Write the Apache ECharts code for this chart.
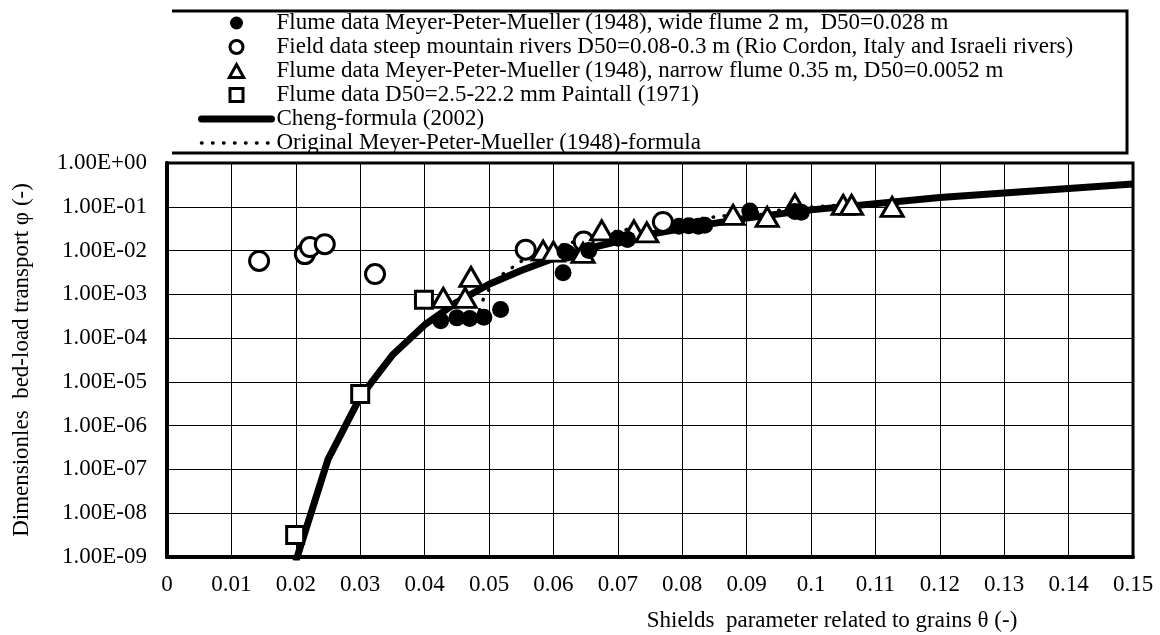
<!DOCTYPE html>
<html><head><meta charset="utf-8">
<script src="https://cdn.jsdelivr.net/npm/echarts@6/dist/echarts.min.js"></script>
<style>html,body{margin:0;padding:0;background:#fff}#c{width:1160px;height:635px}</style>
</head><body><div id="c"></div><script>
// ---- data ----
const seriesNames = [
  'Flume data Meyer-Peter-Mueller (1948), wide flume 2 m,  D50=0.028 m',
  'Field data steep mountain rivers D50=0.08-0.3 m (Rio Cordon, Italy and Israeli rivers)',
  'Flume data Meyer-Peter-Mueller (1948), narrow flume 0.35 m, D50=0.0052 m',
  'Flume data D50=2.5-22.2 mm Paintall (1971)',
  'Cheng-formula (2002)',
  'Original Meyer-Peter-Mueller (1948)-formula'
];
const wideTheta = [0.0425, 0.0450, 0.0470, 0.0492, 0.0518, 0.0615, 0.0618, 0.0622, 0.0655, 0.0700, 0.0715, 0.0795, 0.0810, 0.0825, 0.0835, 0.0905, 0.0975, 0.0985];
const widePhi   = [2.5e-4, 2.9e-4, 2.8e-4, 3.0e-4, 4.5e-4, 3.1e-3, 9.5e-3, 8.8e-3, 1.0e-2, 1.9e-2, 1.8e-2, 3.6e-2, 3.7e-2, 3.6e-2, 3.8e-2, 8.0e-2, 7.8e-2, 7.5e-2];
const fieldTheta = [0.0143, 0.0214, 0.0222, 0.0245, 0.0323, 0.0557, 0.0647, 0.0770];
const fieldPhi   = [5.8e-3, 8.3e-3, 1.2e-2, 1.4e-2, 2.9e-3, 1.05e-2, 1.6e-2, 4.5e-2];
const narrowTheta = [0.0429, 0.0463, 0.0472, 0.0584, 0.0600, 0.0646, 0.0675, 0.0725, 0.0745, 0.0879, 0.0932, 0.0975, 0.1050, 0.1063, 0.1126];
const narrowPhi   = [8.3e-4, 8.3e-4, 2.5e-3, 1.0e-2, 9.5e-3, 8.9e-3, 2.9e-2, 2.9e-2, 2.6e-2, 6.5e-2, 5.9e-2, 1.15e-1, 1.1e-1, 1.1e-1, 1.0e-1];
const paintallTheta = [0.0199, 0.0300, 0.0399];
const paintallPhi   = [3.2e-9, 5.3e-6, 7.5e-4];
const chengTheta = [0.020, 0.025, 0.030, 0.035, 0.040, 0.045, 0.050, 0.055, 0.060, 0.065, 0.070, 0.075, 0.080, 0.090, 0.100, 0.120, 0.150];
const chengPhi   = [8e-10, 1.7e-7, 4.5e-6, 4.1e-5, 2.0e-4, 6.6e-4, 1.7e-3, 3.5e-3, 6.6e-3, 1.07e-2, 1.63e-2, 2.35e-2, 3.2e-2, 5.5e-2, 8.5e-2, 1.62e-1, 3.3e-1];
const mpmTheta = [0.048, 0.049, 0.050, 0.052, 0.055, 0.060, 0.070, 0.080, 0.090, 0.100, 0.110];
const mpmPhi   = [2.5e-4, 7.2e-4, 1.3e-3, 2.8e-3, 5.7e-3, 1.2e-2, 2.8e-2, 4.8e-2, 7.1e-2, 9.8e-2, 1.26e-1];
const xMin = 0, xMax = 0.15, xStep = 0.01;
const yMin = 1e-9, yMax = 1;
const xTitle = 'Shields  parameter related to grains θ (-)';
const yTitle = 'Dimensionles  bed-load transport φ (-)';

const pairs = (xs, ys) => xs.map((x, i) => [x, ys[i]]);
const FONT = "'Liberation Serif','Times New Roman',serif";
const fmtY = v => {
  const e = Math.round(Math.log10(v));
  const m = v / Math.pow(10, e);
  return m.toFixed(2) + 'E' + (e < 0 ? '-' : '+') + String(Math.abs(e)).padStart(2, '0');
};
const fmtX = v => String(Math.round(v * 100) / 100);
const openStyle = {color: '#fff', borderColor: '#000', borderWidth: 3, opacity: 1};
const legendOpen = {color: '#fff', borderColor: '#000', borderWidth: 3};
const TRI = 'path://M5,0 L10,9 L0,9 Z';
const SQR = 'path://M0,0 L10,0 L10,10 L0,10 Z';
const mpmDash = [0.5, 10.5];

const chart = echarts.init(document.getElementById('c'), null, {renderer: 'canvas'});
chart.setOption({
  backgroundColor: '#fff',
  animation: false,
  textStyle: {fontFamily: FONT},
  grid: {left: 167, right: 27, top: 163, bottom: 78, show: true, borderColor: '#000', borderWidth: 3,
         containLabel: false, outerBoundsMode: 'none'},
  legend: {
    orient: 'vertical', left: 198, top: 11, padding: 0, itemGap: 0,
    itemWidth: 70, itemHeight: 13, selectedMode: false, symbolKeepAspect: true,
    data: [
      {name: seriesNames[0], itemStyle: {color: '#000'}},
      {name: seriesNames[1], itemStyle: legendOpen},
      {name: seriesNames[2], icon: TRI, itemStyle: legendOpen},
      {name: seriesNames[3], icon: SQR, itemStyle: legendOpen},
      {name: seriesNames[4], lineStyle: {width: 7, color: '#000', cap: 'round'}},
      {name: seriesNames[5], lineStyle: {width: 3.5, color: '#000', type: mpmDash, cap: 'round'}}
    ],
    textStyle: {fontFamily: FONT, fontSize: 23, lineHeight: 24, color: '#000'}
  },
  graphic: [{
    type: 'polyline', silent: true,
    shape: {points: [[172, 11], [1127, 11], [1127, 153], [172, 153]]},
    style: {fill: null, stroke: '#000', lineWidth: 3}
  }],
  xAxis: {
    type: 'value', min: xMin, max: xMax, interval: xStep,
    name: xTitle, nameLocation: 'middle', nameGap: 52,
    nameTextStyle: {fontFamily: FONT, fontSize: 23, color: '#000', padding: [0, 0, 0, 364]},
    axisLine: {show: true, onZero: false, lineStyle: {color: '#000', width: 4}},
    axisTick: {show: false},
    axisLabel: {formatter: fmtX, fontFamily: FONT, fontSize: 23, color: '#000', margin: 16},
    splitLine: {show: true, lineStyle: {color: '#000', width: 1}}
  },
  yAxis: {
    type: 'log', logBase: 10, min: yMin, max: yMax,
    name: yTitle, nameLocation: 'middle', nameGap: 134,
    nameTextStyle: {fontFamily: FONT, fontSize: 23, color: '#000'},
    axisLine: {show: true, lineStyle: {color: '#000', width: 4}},
    axisTick: {show: false},
    minorTick: {show: false},
    axisLabel: {formatter: fmtY, fontFamily: FONT, fontSize: 23, color: '#000', margin: 20},
    splitLine: {show: true, lineStyle: {color: '#000', width: 1}}
  },
  series: [
    {name: seriesNames[0], type: 'scatter', data: pairs(wideTheta, widePhi), symbol: 'circle', symbolSize: 17,
     itemStyle: {color: '#000', opacity: 1}, z: 6},
    {name: seriesNames[1], type: 'scatter', data: pairs(fieldTheta, fieldPhi), symbol: 'circle', symbolSize: 19,
     itemStyle: openStyle, z: 5},
    {name: seriesNames[2], type: 'scatter', data: pairs(narrowTheta, narrowPhi), symbol: 'triangle', symbolSize: [22, 19],
     itemStyle: openStyle, z: 5},
    {name: seriesNames[3], type: 'scatter', data: pairs(paintallTheta, paintallPhi), symbol: 'rect', symbolSize: 17,
     itemStyle: openStyle, z: 5},
    {name: seriesNames[4], type: 'line', data: pairs(chengTheta, chengPhi), symbol: 'none', clip: true,
     lineStyle: {color: '#000', width: 7}, itemStyle: {color: 'rgba(0,0,0,0)', borderWidth: 0}, z: 3},
    {name: seriesNames[5], type: 'line', data: pairs(mpmTheta, mpmPhi), symbol: 'none', clip: true,
     lineStyle: {color: '#000', width: 3.5, type: mpmDash, cap: 'round'}, itemStyle: {color: 'rgba(0,0,0,0)', borderWidth: 0}, z: 4}
  ]
});
</script></body></html>
